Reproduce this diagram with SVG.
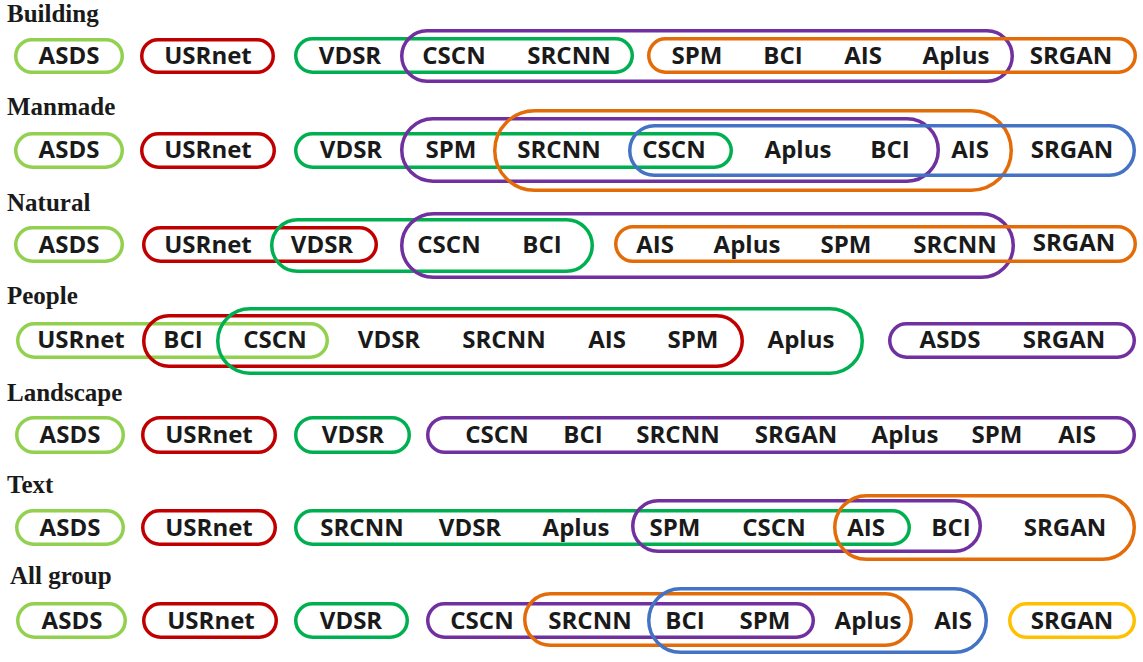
<svg xmlns="http://www.w3.org/2000/svg" width="1143" height="662" viewBox="0 0 1143 662">
  <style>
    .title { font-family: "Liberation Serif", "Times New Roman", serif; font-weight: bold; font-size: 25px; fill: #1a1a1a; }
    .lbl { font-family: "Open Sans", "Noto Sans", sans-serif; font-weight: 700; font-size: 24px; fill: #1a1a1a; text-anchor: middle; }
    .pill { fill: none; stroke-width: 3.5; }
    .lg { stroke: #92D050; }
    .rd { stroke: #C00000; }
    .gn { stroke: #00B050; }
    .pu { stroke: #7030A0; }
    .or { stroke: #E36C09; }
    .bl { stroke: #4472C4; }
    .ye { stroke: #FFC000; }
  </style>
  <rect width="1143" height="662" fill="#ffffff"/>

  <!-- Building -->
  <g id="row-building">
    <text class="title" x="7" y="22">Building</text>
    <g id="b-asds"><rect class="pill lg" x="15.75" y="39.75" width="106.5" height="32.5" rx="16.25"/></g>
    <g id="b-usrnet"><rect class="pill rd" x="141.75" y="39.75" width="131.5" height="32.5" rx="16.25"/></g>
    <g id="b-green"><rect class="pill gn" x="295.75" y="38.75" width="336.5" height="33.5" rx="16.75"/></g>
    <g id="b-purple"><rect class="pill pu" x="401.75" y="30.75" width="610.5" height="50.5" rx="25.25"/></g>
    <g id="b-orange"><rect class="pill or" x="648.75" y="38.75" width="486.5" height="33.5" rx="16.75"/></g>
    <g id="b-labels">
      <text class="lbl" x="69" y="64">ASDS</text>
      <text class="lbl" x="208" y="64">USRnet</text>
      <text class="lbl" x="350" y="64">VDSR</text>
      <text class="lbl" x="454" y="64">CSCN</text>
      <text class="lbl" x="569" y="64">SRCNN</text>
      <text class="lbl" x="697" y="64">SPM</text>
      <text class="lbl" x="783" y="64">BCI</text>
      <text class="lbl" x="863" y="64">AIS</text>
      <text class="lbl" x="956" y="64">Aplus</text>
      <text class="lbl" x="1071" y="64">SRGAN</text>
    </g>
  </g>

  <!-- Manmade -->
  <g id="row-manmade">
    <text class="title" x="7" y="115">Manmade</text>
    <g id="m-asds"><rect class="pill lg" x="15.75" y="133.75" width="106.5" height="33.5" rx="16.75"/></g>
    <g id="m-usrnet"><rect class="pill rd" x="141.75" y="133.75" width="132.5" height="33.5" rx="16.75"/></g>
    <g id="m-green"><rect class="pill gn" x="295.75" y="133.75" width="435.5" height="33.5" rx="16.75"/></g>
    <g id="m-purple"><rect class="pill pu" x="401.75" y="118.75" width="536.5" height="62.5" rx="31.25"/></g>
    <g id="m-orange"><rect class="pill or" x="494.75" y="110.75" width="516.5" height="79.5" rx="39.75"/></g>
    <g id="m-blue"><rect class="pill bl" x="629.75" y="125.75" width="504.5" height="49.5" rx="24.75"/></g>
    <g id="m-labels">
      <text class="lbl" x="69" y="158">ASDS</text>
      <text class="lbl" x="208" y="158">USRnet</text>
      <text class="lbl" x="351" y="158">VDSR</text>
      <text class="lbl" x="451" y="158">SPM</text>
      <text class="lbl" x="559" y="158">SRCNN</text>
      <text class="lbl" x="674" y="158">CSCN</text>
      <text class="lbl" x="798" y="158">Aplus</text>
      <text class="lbl" x="890" y="158">BCI</text>
      <text class="lbl" x="970" y="158">AIS</text>
      <text class="lbl" x="1072" y="158">SRGAN</text>
    </g>
  </g>

  <!-- Natural -->
  <g id="row-natural">
    <text class="title" x="7" y="211">Natural</text>
    <g id="n-asds"><rect class="pill lg" x="15.75" y="227.75" width="106.5" height="33.5" rx="16.75"/></g>
    <g id="n-usrnet"><rect class="pill rd" x="143.75" y="227.75" width="232.5" height="33.5" rx="16.75"/></g>
    <g id="n-green"><rect class="pill gn" x="271.75" y="219.75" width="320.5" height="51.5" rx="25.75"/></g>
    <g id="n-purple"><rect class="pill pu" x="401.75" y="213.75" width="611.5" height="63.5" rx="31.75"/></g>
    <g id="n-orange"><rect class="pill or" x="615.75" y="226.75" width="519.5" height="34.5" rx="17.25"/></g>
    <g id="n-labels">
      <text class="lbl" x="69" y="253">ASDS</text>
      <text class="lbl" x="208" y="253">USRnet</text>
      <text class="lbl" x="322" y="253">VDSR</text>
      <text class="lbl" x="449" y="253">CSCN</text>
      <text class="lbl" x="542" y="253">BCI</text>
      <text class="lbl" x="655" y="253">AIS</text>
      <text class="lbl" x="747" y="253">Aplus</text>
      <text class="lbl" x="846" y="253">SPM</text>
      <text class="lbl" x="955" y="253">SRCNN</text>
      <text class="lbl" x="1074" y="251">SRGAN</text>
    </g>
  </g>

  <!-- People -->
  <g id="row-people">
    <text class="title" x="7" y="304">People</text>
    <g id="p-lightgreen"><rect class="pill lg" x="17.75" y="323.75" width="309.5" height="33.5" rx="16.75"/></g>
    <g id="p-red"><rect class="pill rd" x="143.75" y="315.75" width="598.5" height="50.5" rx="25.25"/></g>
    <g id="p-green"><rect class="pill gn" x="217.75" y="308.75" width="644.5" height="64.5" rx="32.25"/></g>
    <g id="p-purple"><rect class="pill pu" x="889.75" y="323.75" width="244.5" height="33.5" rx="16.75"/></g>
    <g id="p-labels">
      <text class="lbl" x="81" y="348">USRnet</text>
      <text class="lbl" x="183" y="348">BCI</text>
      <text class="lbl" x="275" y="348">CSCN</text>
      <text class="lbl" x="389" y="348">VDSR</text>
      <text class="lbl" x="504" y="348">SRCNN</text>
      <text class="lbl" x="607" y="348">AIS</text>
      <text class="lbl" x="693" y="348">SPM</text>
      <text class="lbl" x="801" y="348">Aplus</text>
      <text class="lbl" x="950" y="348">ASDS</text>
      <text class="lbl" x="1064" y="348">SRGAN</text>
    </g>
  </g>

  <!-- Landscape -->
  <g id="row-landscape">
    <text class="title" x="7" y="401">Landscape</text>
    <g id="l-asds"><rect class="pill lg" x="16.75" y="417.75" width="106.5" height="34.5" rx="17.25"/></g>
    <g id="l-usrnet"><rect class="pill rd" x="142.75" y="417.75" width="132.5" height="34.5" rx="17.25"/></g>
    <g id="l-vdsr"><rect class="pill gn" x="295.75" y="417.75" width="113.5" height="34.5" rx="17.25"/></g>
    <g id="l-purple"><rect class="pill pu" x="427.75" y="417.75" width="706.5" height="34.5" rx="17.25"/></g>
    <g id="l-labels">
      <text class="lbl" x="70" y="443">ASDS</text>
      <text class="lbl" x="209" y="443">USRnet</text>
      <text class="lbl" x="353" y="443">VDSR</text>
      <text class="lbl" x="497" y="443">CSCN</text>
      <text class="lbl" x="583" y="443">BCI</text>
      <text class="lbl" x="678" y="443">SRCNN</text>
      <text class="lbl" x="796" y="443">SRGAN</text>
      <text class="lbl" x="905" y="443">Aplus</text>
      <text class="lbl" x="997" y="443">SPM</text>
      <text class="lbl" x="1077" y="443">AIS</text>
    </g>
  </g>

  <!-- Text -->
  <g id="row-text">
    <text class="title" x="7" y="493">Text</text>
    <g id="t-asds"><rect class="pill lg" x="16.75" y="510.75" width="106.5" height="33.5" rx="16.75"/></g>
    <g id="t-usrnet"><rect class="pill rd" x="142.75" y="510.75" width="132.5" height="33.5" rx="16.75"/></g>
    <g id="t-green"><rect class="pill gn" x="295.75" y="510.75" width="613.5" height="33.5" rx="16.75"/></g>
    <g id="t-purple"><rect class="pill pu" x="632.75" y="500.75" width="347.5" height="50.5" rx="25.25"/></g>
    <g id="t-orange"><rect class="pill or" x="834.75" y="495.75" width="299.5" height="63.5" rx="31.75"/></g>
    <g id="t-labels">
      <text class="lbl" x="70" y="536">ASDS</text>
      <text class="lbl" x="209" y="536">USRnet</text>
      <text class="lbl" x="362" y="536">SRCNN</text>
      <text class="lbl" x="470" y="536">VDSR</text>
      <text class="lbl" x="576" y="536">Aplus</text>
      <text class="lbl" x="675" y="536">SPM</text>
      <text class="lbl" x="774" y="536">CSCN</text>
      <text class="lbl" x="866" y="536">AIS</text>
      <text class="lbl" x="951" y="536">BCI</text>
      <text class="lbl" x="1065" y="536">SRGAN</text>
    </g>
  </g>

  <!-- All group -->
  <g id="row-all">
    <text class="title" x="10" y="584">All group</text>
    <g id="a-asds"><rect class="pill lg" x="17.75" y="603.75" width="107.5" height="33.5" rx="16.75"/></g>
    <g id="a-usrnet"><rect class="pill rd" x="143.75" y="603.75" width="132.5" height="33.5" rx="16.75"/></g>
    <g id="a-vdsr"><rect class="pill gn" x="295.75" y="603.75" width="111.5" height="33.5" rx="16.75"/></g>
    <g id="a-purple"><rect class="pill pu" x="427.75" y="603.75" width="385.5" height="33.5" rx="16.75"/></g>
    <g id="a-orange"><rect class="pill or" x="524.75" y="593.75" width="386.5" height="51.5" rx="25.75"/></g>
    <g id="a-blue"><rect class="pill bl" x="648.75" y="588.75" width="337.5" height="63.5" rx="31.75"/></g>
    <g id="a-srgan"><rect class="pill ye" x="1009.75" y="603.75" width="124.5" height="33.5" rx="16.75"/></g>
    <g id="a-labels">
      <text class="lbl" x="72" y="628.5">ASDS</text>
      <text class="lbl" x="211" y="628.5">USRnet</text>
      <text class="lbl" x="351" y="628.5">VDSR</text>
      <text class="lbl" x="482" y="628.5">CSCN</text>
      <text class="lbl" x="590" y="628.5">SRCNN</text>
      <text class="lbl" x="685" y="628.5">BCI</text>
      <text class="lbl" x="765" y="628.5">SPM</text>
      <text class="lbl" x="868" y="628.5">Aplus</text>
      <text class="lbl" x="953" y="628.5">AIS</text>
      <text class="lbl" x="1072" y="628.5">SRGAN</text>
    </g>
  </g>

  <!-- no connectors in this figure -->
  <g id="connectors"/>
</svg>
